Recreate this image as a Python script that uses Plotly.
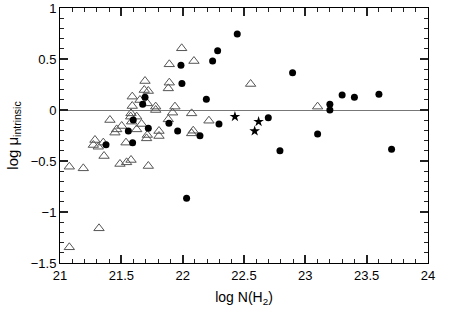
import plotly.graph_objects as go

tri_x = [21.992, 21.891, 21.693, 21.891, 21.883, 21.687, 21.72, 21.589, 21.652, 21.712,
         21.589, 21.78, 21.78, 21.937, 21.918, 21.579, 21.576, 21.625, 21.407, 21.584,
         21.883, 21.665, 21.503, 21.462, 21.625, 21.448, 21.807, 21.807, 21.712, 22.073,
         21.285, 21.272, 21.312, 21.353, 21.359, 21.538, 21.706, 21.076, 21.19, 21.489,
         21.543, 21.579, 21.72, 21.318, 21.076, 22.092, 22.554, 22.214, 22.086, 22.073, 23.1]
tri_y = [0.605, 0.448, 0.284, 0.268, 0.212, 0.196, 0.186, 0.131, 0.098, 0.065,
         0.039, 0.033, 0.0, 0.033, -0.026, -0.033, -0.065, -0.065, -0.098, -0.114,
         -0.092, -0.137, -0.157, -0.19, -0.19, -0.222, -0.206, -0.255, -0.245, -0.033,
         -0.294, -0.343, -0.36, -0.32, -0.451, -0.32, -0.278, -0.556, -0.572, -0.529,
         -0.513, -0.49, -0.549, -1.16, -1.346, 0.48, 0.255, -0.105, -0.203, -0.229, 0.033]

circ_x = [21.986, 21.994, 21.693, 21.674, 21.597, 21.888, 21.72, 21.959, 21.557, 21.375,
          21.592, 22.032, 22.445, 22.285, 22.244, 22.193, 22.896, 22.296, 22.141, 22.698,
          22.793, 23.2, 23.2, 23.3, 23.4, 23.6, 23.1, 23.703]
circ_y = [0.438, 0.261, 0.124, 0.056, -0.098, -0.13, -0.18, -0.206, -0.206, -0.34,
          -0.32, -0.866, 0.745, 0.58, 0.48, 0.105, 0.366, -0.137, -0.252, -0.075,
          -0.399, 0.056, 0.0, 0.147, 0.124, 0.154, -0.235, -0.385]

star_x = [22.426, 22.619, 22.587]
star_y = [-0.065, -0.114, -0.206]

x_range = [21, 24]
y_range = [-1.5, 1]

fig = go.Figure()
fig.add_trace(go.Scatter(x=tri_x, y=tri_y, mode="markers",
                         marker=dict(symbol="triangle-up-open", size=9, color="#555555",
                                     line=dict(width=1, color="#555555"))))
fig.add_trace(go.Scatter(x=circ_x, y=circ_y, mode="markers",
                         marker=dict(symbol="circle", size=7, color="black")))
fig.add_trace(go.Scatter(x=star_x, y=star_y, mode="markers",
                         marker=dict(symbol="star", size=8, color="black")))

axis_common = dict(showline=True, linecolor="black", linewidth=1, mirror="allticks",
                   ticks="inside", ticklen=8, tickwidth=1.5, tickcolor="#222222",
                   showgrid=False, tickmode="linear", tick0=0, dtick=0.5,
                   minor=dict(ticks="inside", ticklen=4, tickwidth=1.2, tickcolor="#222222",
                              dtick=0.1, tick0=0, showgrid=False),
                   tickfont=dict(size=13, color="black"))

fig.update_layout(
    template="none",
    width=449, height=316,
    margin=dict(l=60, r=21, t=8, b=53),
    paper_bgcolor="white", plot_bgcolor="white",
    showlegend=False,
    font=dict(family="Liberation Sans, Arial, sans-serif", size=13, color="black"),
    xaxis=dict(range=x_range, zeroline=False,
               title=dict(text="log N(H<sub>2</sub>)", font=dict(size=14), standoff=10),
               **axis_common),
    yaxis=dict(range=y_range,
               zeroline=True, zerolinecolor="#777777", zerolinewidth=1,
               title=dict(text="log μ<sub>intrinsic</sub>", font=dict(size=15), standoff=8),
               **axis_common),
)

fig.write_html("out.html", config={"displayModeBar": False},
               post_script="document.body.style.margin='0';")
